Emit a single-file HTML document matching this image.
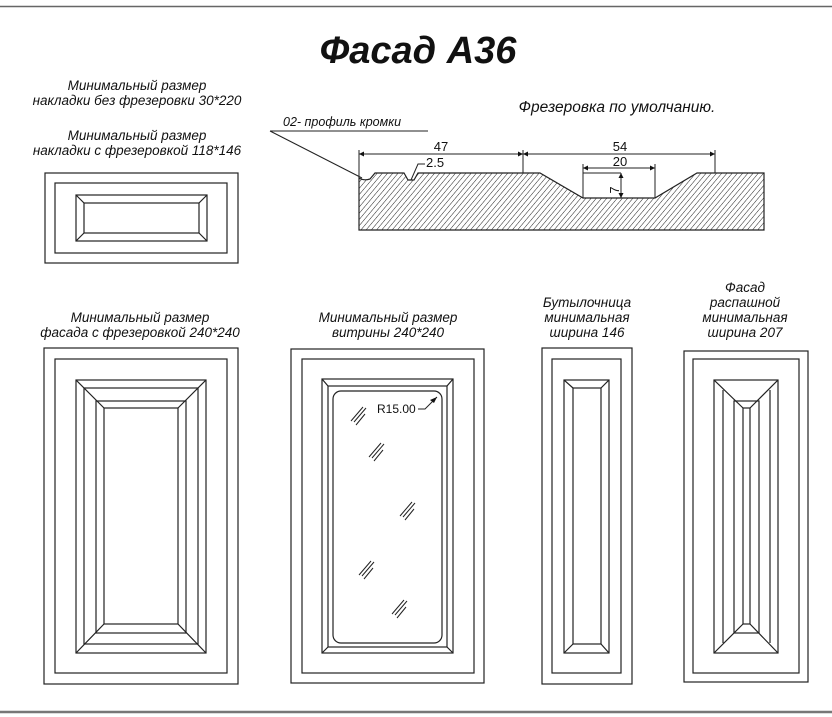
<!DOCTYPE html>
<html><head><meta charset="utf-8"><style>
html,body{margin:0;padding:0;background:#fff;}
svg{display:block;}
text{font-family:"Liberation Sans","DejaVu Sans",sans-serif;font-style:italic;fill:#111;}
.n{font-style:normal;}
</style></head><body>
<svg width="832" height="717" viewBox="0 0 832 717" xmlns="http://www.w3.org/2000/svg">
<defs>
<pattern id="h" patternUnits="userSpaceOnUse" width="4" height="4" patternTransform="rotate(40)">
<line x1="0" y1="0" x2="0" y2="4" stroke="#222" stroke-width="1"/>
</pattern>
<marker id="a" viewBox="0 0 10 10" refX="10" refY="5" markerWidth="8" markerHeight="5" orient="auto-start-reverse" markerUnits="userSpaceOnUse"><path d="M0,0 L10,5 L0,10z" fill="#111"/></marker>
</defs>
<line x1="0" y1="6.5" x2="832" y2="6.5" stroke="#666" stroke-width="1.5"/>
<line x1="0" y1="712" x2="832" y2="712" stroke="#777" stroke-width="2.5"/>

<text x="418" y="63" font-size="38" font-weight="bold" text-anchor="middle">Фасад А36</text>

<text x="137" y="90" font-size="13.5" text-anchor="middle">Минимальный размер</text>
<text x="137" y="105" font-size="13.5" text-anchor="middle">накладки без фрезеровки 30*220</text>
<text x="137" y="140" font-size="13.5" text-anchor="middle">Минимальный размер</text>
<text x="137" y="155" font-size="13.5" text-anchor="middle">накладки с фрезеровкой 118*146</text>

<g fill="none" stroke="#222" stroke-width="1.2">
<rect x="45" y="173" width="193" height="90"/>
<rect x="55" y="183" width="172" height="70"/>
<rect x="76" y="195" width="131" height="46"/>
<rect x="84" y="203" width="115" height="30"/>
<path d="M76 195L84 203M207 195L199 203M76 241L84 233M207 241L199 233"/>

<rect x="44" y="348" width="194" height="336"/>
<rect x="55" y="359" width="172" height="314"/>
<rect x="76" y="380" width="130" height="273"/>
<rect x="84" y="388" width="114" height="256"/>
<rect x="96" y="401" width="90" height="232"/>
<rect x="104" y="408" width="74" height="216"/>
<path d="M76 380L104 408M206 380L178 408M76 653L104 624M206 653L178 624"/>

<rect x="291" y="349" width="193" height="334"/>
<rect x="302" y="359" width="172" height="314"/>
<rect x="322" y="379" width="131" height="274"/>
<rect x="328" y="386" width="119" height="261"/>
<rect x="333" y="391" width="109" height="252" rx="8"/>
<path d="M322 379L328 386M453 379L447 386M322 653L328 647M453 653L447 647"/>
<path d="M418 409L425 409L437 397" stroke-width="1"/>
<g stroke-width="1">
<path d="M351 421l12-14M354 422l12-14M356 425l9-11"/>
<path d="M369 457l12-14M372 458l12-14M374 461l9-11"/>
<path d="M400 516l12-14M403 517l12-14M405 520l9-11"/>
<path d="M359 575l12-14M362 576l12-14M364 579l9-11"/>
<path d="M392 614l12-14M395 615l12-14M397 618l9-11"/>
</g>

<rect x="542" y="348" width="90" height="336"/>
<rect x="552" y="359" width="69" height="314"/>
<rect x="564" y="380" width="45" height="273"/>
<rect x="573" y="388" width="28" height="256"/>
<path d="M564 380L573 388M609 380L601 388M564 653L573 644M609 653L601 644"/>

<rect x="684" y="351" width="124" height="331"/>
<rect x="693" y="359" width="106" height="314"/>
<rect x="714" y="380" width="64" height="273"/>
<path d="M723 390V643M770 390V643"/>
<rect x="734" y="401" width="25" height="232"/>
<rect x="743" y="408" width="7" height="216"/>
<path d="M714 380L743 408M778 380L750 408M714 653L743 624M778 653L750 624"/>
</g>
<path d="M437 397l-7 3l4 3z" fill="#111"/>
<text class="n" x="377" y="413" font-size="12">R15.00</text>

<text x="140" y="322" font-size="13.5" text-anchor="middle">Минимальный размер</text>
<text x="140" y="337" font-size="13.5" text-anchor="middle">фасада с фрезеровкой  240*240</text>
<text x="388" y="322" font-size="13.5" text-anchor="middle">Минимальный размер</text>
<text x="388" y="337" font-size="13.5" text-anchor="middle">витрины 240*240</text>
<text x="587" y="307" font-size="13.5" text-anchor="middle">Бутылочница</text>
<text x="587" y="322" font-size="13.5" text-anchor="middle">минимальная</text>
<text x="587" y="337" font-size="13.5" text-anchor="middle">ширина 146</text>
<text x="745" y="292" font-size="13.5" text-anchor="middle">Фасад</text>
<text x="745" y="307" font-size="13.5" text-anchor="middle">распашной</text>
<text x="745" y="322" font-size="13.5" text-anchor="middle">минимальная</text>
<text x="745" y="337" font-size="13.5" text-anchor="middle">ширина 207</text>

<text x="617" y="112" font-size="15.5" text-anchor="middle">Фрезеровка по умолчанию.</text>
<text x="283" y="126" font-size="12.5">02- профиль кромки</text>

<path d="M359 178Q364 181 370 179L375 173L404 173L408 180L414 180L418 173L523 173L540 173L583 198L655 198L697 173L764 173L764 230L359 230Z" fill="url(#h)" stroke="#222" stroke-width="1.2"/>
<g stroke="#222" stroke-width="1" fill="none">
<path d="M270 131H428M270 131L362 178"/>
<path d="M359 178V150M523 173V150M715 173V150M583 198V164M655 198V164M583 173H621"/>
<line x1="359" y1="154" x2="523" y2="154" marker-start="url(#a)" marker-end="url(#a)"/>
<line x1="523" y1="154" x2="715" y2="154" marker-start="url(#a)" marker-end="url(#a)"/>
<line x1="583" y1="168" x2="655" y2="168" marker-start="url(#a)" marker-end="url(#a)"/>
<line x1="621" y1="173" x2="621" y2="198" marker-start="url(#a)" marker-end="url(#a)"/>
<path d="M411 180L418 164H425"/>
</g>
<text class="n" x="441" y="151" font-size="13" text-anchor="middle">47</text>
<text class="n" x="620" y="151" font-size="13" text-anchor="middle">54</text>
<text class="n" x="620" y="166" font-size="13" text-anchor="middle">20</text>
<text class="n" x="426" y="167" font-size="13">2.5</text>
<text class="n" x="0" y="0" font-size="12.5" transform="translate(619,190) rotate(-90)" text-anchor="middle">7</text>
</svg>
</body></html>
